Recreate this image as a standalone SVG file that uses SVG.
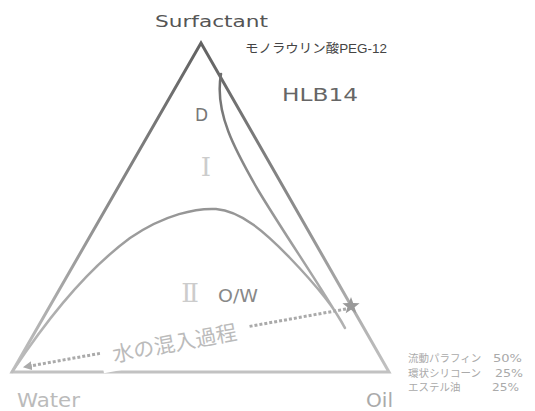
<svg xmlns="http://www.w3.org/2000/svg" width="535" height="411" viewBox="0 0 535 411">
<style>
  .lat { font-family: "DejaVu Sans", "Liberation Sans", sans-serif; }
  .jp { font-family: "Liberation Sans", "Noto Sans CJK JP", sans-serif; }
  .rom { font-family: "DejaVu Serif", "Liberation Serif", serif; fill: #cccccc; }
  .legend { font-family: "Liberation Sans", "Noto Sans CJK JP", sans-serif; font-size: 10.5px; fill: #aaaaaa; }
  .pct { font-family: "DejaVu Sans", "Liberation Sans", sans-serif; font-size: 10.5px; fill: #aaaaaa; }
</style>
<defs>
  <linearGradient id="gTri" gradientUnits="userSpaceOnUse" x1="0" y1="43" x2="0" y2="372">
    <stop offset="0" stop-color="#626262"/>
    <stop offset="0.5" stop-color="#8c8c8c"/>
    <stop offset="1" stop-color="#c2c2c2"/>
  </linearGradient>
  <linearGradient id="gCurve" gradientUnits="userSpaceOnUse" x1="0" y1="76" x2="0" y2="372">
    <stop offset="0" stop-color="#6e6e6e"/>
    <stop offset="0.45" stop-color="#959595"/>
    <stop offset="1" stop-color="#bdbdbd"/>
  </linearGradient>
  <marker id="arr" viewBox="0 0 10 10" refX="2" refY="5" markerWidth="3" markerHeight="3" orient="auto-start-reverse">
    <path d="M0,0 L10,5 L0,10 Z" fill="#aaaaaa"/>
  </marker>
</defs>

<g id="triangle">
  <path d="M12,372 L201,43 L389,372 Z" fill="none" stroke="url(#gTri)" stroke-width="3" stroke-linejoin="miter"/>
</g>

<g id="connectors">
  <path id="phase-boundary" d="M12,372 C40,330 80,275 130,238 C165,214 197,208 216,209 C241,211 265,232 290,258 C315,284 335,308 345,328 C320,285 285,235 258,190 C235,150 214,112 221,74" fill="none" stroke="url(#gCurve)" stroke-width="2.5" stroke-linejoin="round" stroke-linecap="round"/>
  <path id="water-path" d="M346,309 L30,366" fill="none" stroke="#aaaaaa" stroke-width="3" stroke-dasharray="3,2" marker-end="url(#arr)"/>
</g>

<g id="mixing-label" transform="translate(180,350) rotate(-10.5)">
  <rect x="-79" y="-23" width="151" height="32" fill="#ffffff"/>
  <text x="-4" y="0" text-anchor="middle" font-family="'Noto Sans CJK JP', sans-serif" font-size="21" fill="#bbbbbb">水の混入過程</text>
</g>

<g id="star">
  <polygon points="351,297 353.2,302.9 359.6,303.2 354.6,307.2 356.3,313.3 351,309.8 345.7,313.3 347.4,307.2 342.4,303.2 348.8,302.9" fill="#999999"/>
</g>

<g id="label-surfactant">
  <text class="lat" x="155" y="27" font-size="16.5" fill="#555555" textLength="113" lengthAdjust="spacingAndGlyphs">Surfactant</text>
</g>
<g id="label-peg">
  <text class="jp" x="245" y="53" font-size="12.5" fill="#444444" textLength="142" lengthAdjust="spacingAndGlyphs">モノラウリン酸PEG-12</text>
</g>
<g id="label-hlb">
  <text class="lat" x="282" y="101" font-size="18.5" fill="#666666" textLength="76" lengthAdjust="spacingAndGlyphs">HLB14</text>
</g>
<g id="label-d">
  <text class="lat" x="195" y="121" font-size="17" fill="#777777">D</text>
</g>
<g id="label-I">
  <text class="rom" x="206" y="176" font-size="26" text-anchor="middle">Ⅰ</text>
</g>
<g id="label-II">
  <text class="rom" x="190" y="302" font-size="26" text-anchor="middle">Ⅱ</text>
</g>
<g id="label-ow">
  <text class="lat" x="218" y="302" font-size="17" fill="#888888" textLength="40" lengthAdjust="spacingAndGlyphs">O/W</text>
</g>
<g id="label-water">
  <text class="lat" x="17" y="407" font-size="19" fill="#bbbbbb" textLength="63" lengthAdjust="spacingAndGlyphs">Water</text>
</g>
<g id="label-oil">
  <text class="lat" x="366" y="407" font-size="19" fill="#aaaaaa" textLength="27" lengthAdjust="spacingAndGlyphs">Oil</text>
</g>
<g id="legend">
  <text class="legend" x="408" y="362">流動パラフィン</text>
  <text class="pct" x="493" y="362" textLength="29" lengthAdjust="spacingAndGlyphs">50%</text>
  <text class="legend" x="408" y="377">環状シリコーン</text>
  <text class="pct" x="495" y="377" textLength="28" lengthAdjust="spacingAndGlyphs">25%</text>
  <text class="legend" x="408" y="391">エステル油</text>
  <text class="pct" x="492" y="391" textLength="27" lengthAdjust="spacingAndGlyphs">25%</text>
</g>
</svg>
